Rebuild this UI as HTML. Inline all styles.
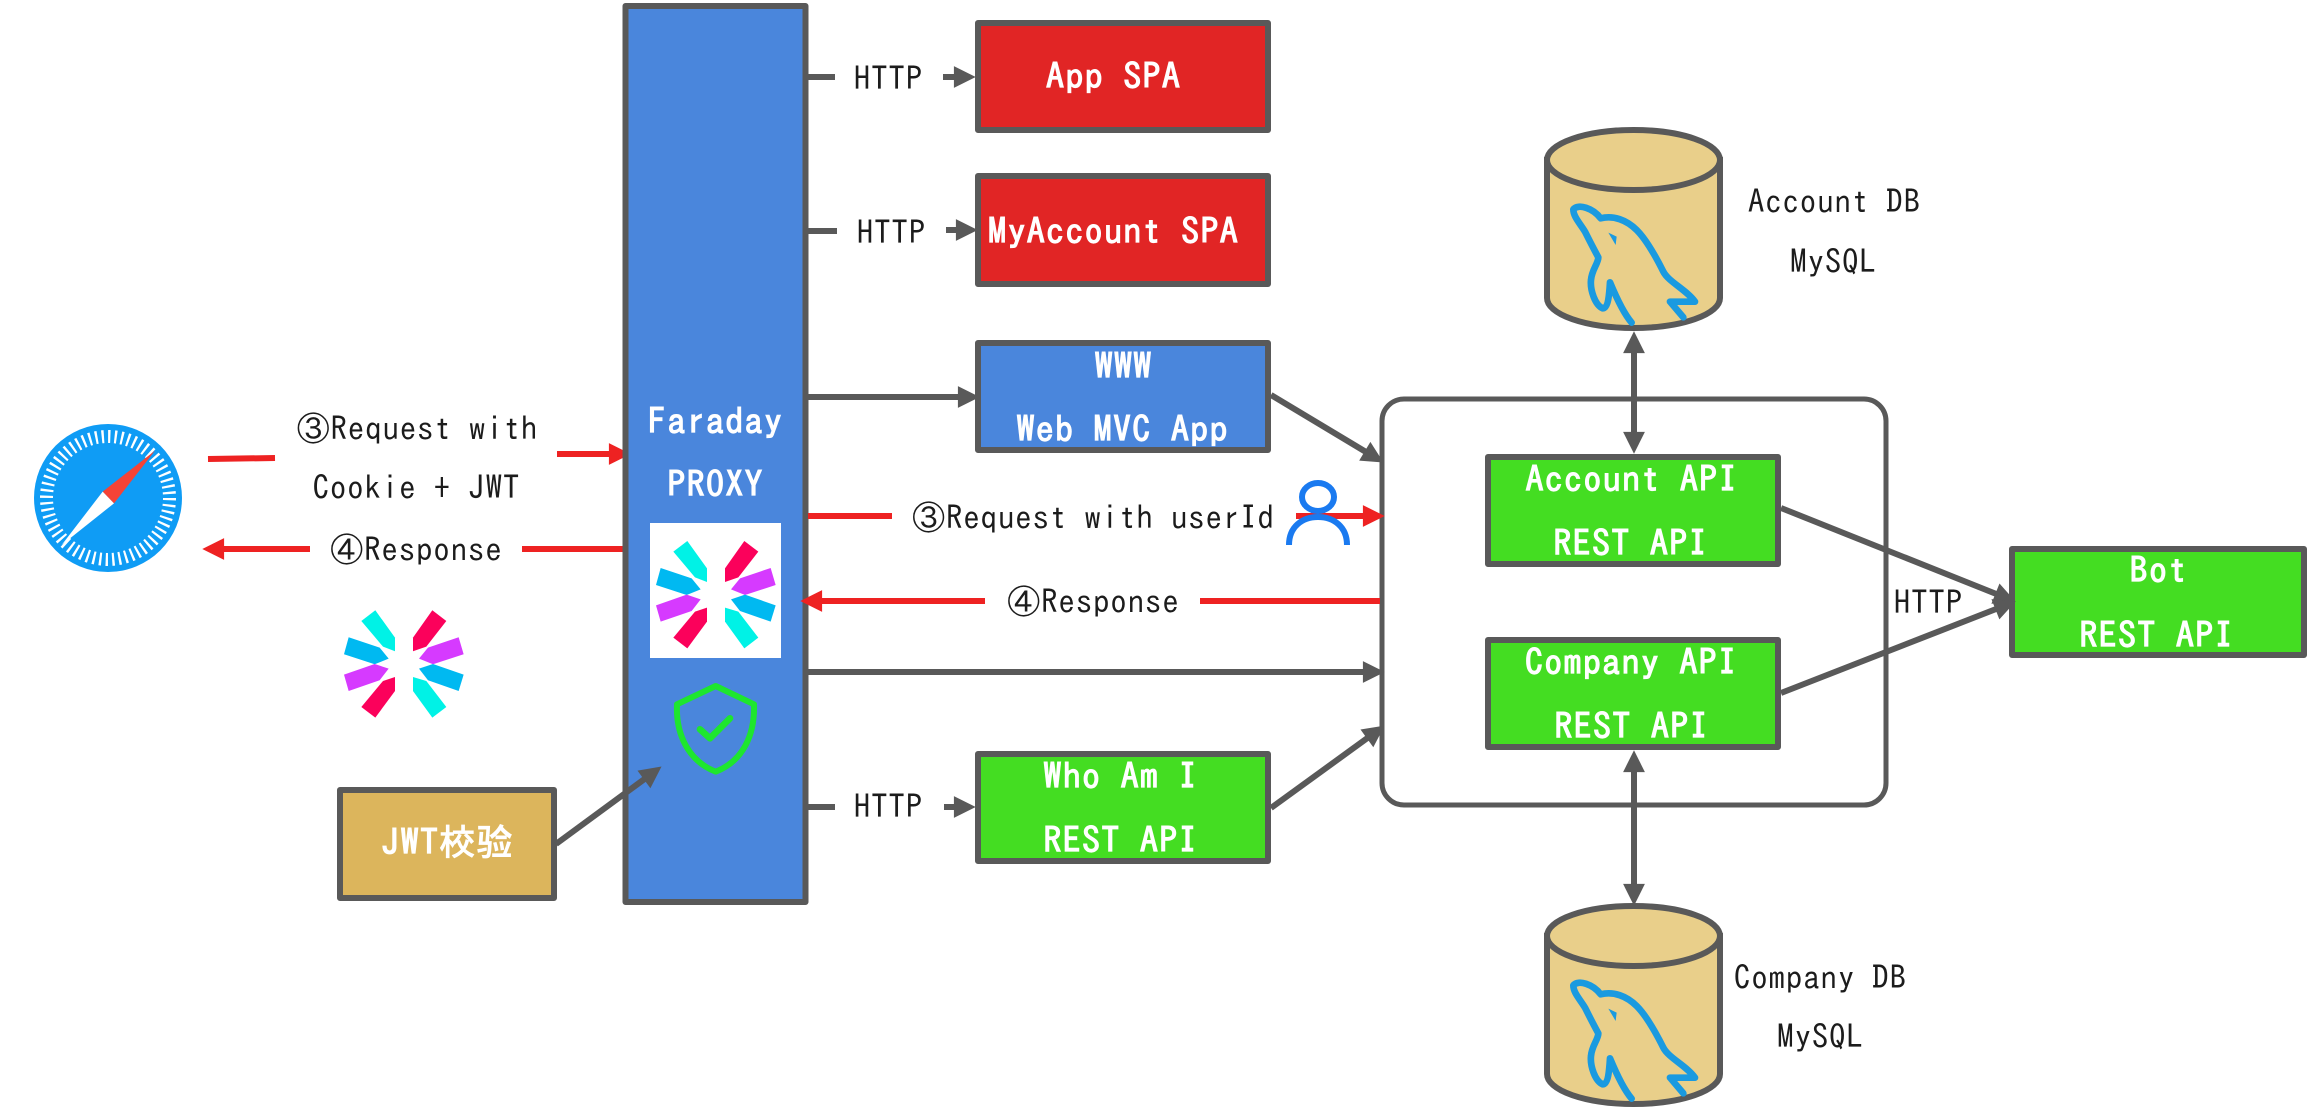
<!DOCTYPE html>
<html>
<head>
<meta charset="utf-8">
<style>
html,body{margin:0;padding:0;background:#fff;width:2315px;height:1110px;overflow:hidden}
svg{display:block}
text{font-family:"IPAGothic","WenQuanYi Zen Hei","Noto Sans CJK JP",monospace;text-anchor:middle}
.r{font-size:33px;letter-spacing:.8px;fill:#1c1c1c}
.b{font-size:36px;letter-spacing:1.3px;fill:#fff;font-weight:bold}
.box{stroke:#595959;stroke-width:6;stroke-linejoin:round}
.g{stroke:#595959;stroke-width:6;fill:none}
.a{marker-end:url(#mg)}
.d{marker-start:url(#mg2);marker-end:url(#mg)}
.l{stroke:#ee2222;stroke-width:6;fill:none}
.ar{marker-end:url(#mr)}
</style>
</head>
<body>
<svg width="2315" height="1110" viewBox="0 0 2315 1110" xmlns="http://www.w3.org/2000/svg">
<defs>
<marker id="mg" markerUnits="userSpaceOnUse" markerWidth="24" markerHeight="24" viewBox="0 -11 22 22" refX="12" refY="0" orient="auto" overflow="visible"><path d="M0,-10 L20,0 L0,10Z" fill="#595959"/></marker>
<marker id="mg2" markerUnits="userSpaceOnUse" markerWidth="24" markerHeight="24" viewBox="0 -11 22 22" refX="12" refY="0" orient="auto-start-reverse" overflow="visible"><path d="M0,-10 L20,0 L0,10Z" fill="#595959"/></marker>
<marker id="mr" markerUnits="userSpaceOnUse" markerWidth="24" markerHeight="24" viewBox="0 -11 22 22" refX="12" refY="0" orient="auto" overflow="visible"><path d="M0,-10 L20,0 L0,10Z" fill="#ee2222"/></marker>
<g id="jwt">
<polygon fill="#00f2e6" points="130,155 172,123 231,205 231,246 195,232"/>
<polygon fill="#00b9f1" points="92,204 78,255 170,285 212,268 185,235"/>
<polygon fill="#d63aff" points="78,316 92,365 185,333 212,298 170,284"/>
<polygon fill="#fb015b" points="172,445 130,413 195,335 231,323 231,365"/>
<polygon fill="#fb015b" points="343,123 385,155 325,232 285,246 285,205"/>
<polygon fill="#d63aff" points="422,204 437,255 345,285 303,268 330,235"/>
<polygon fill="#00b9f1" points="437,316 422,365 330,333 303,298 345,284"/>
<polygon fill="#00f2e6" points="343,445 385,413 325,335 285,323 285,365"/>
</g>
<g id="cyl">
<path d="M1547,160 L1547,298 A86.5,30 0 0 0 1720,298 L1720,160 Z" fill="#e9cf8a" stroke="#595959" stroke-width="6"/>
<ellipse cx="1633.5" cy="160" rx="86.5" ry="30" fill="#e9cf8a" stroke="#595959" stroke-width="6"/>
<g transform="translate(1530,120) scale(.3333)">
<path d="M305,608 C285,585 262,540 240,487 C238,520 235,565 218,565 C195,555 180,510 183,480 C185,450 205,430 205,412 C190,385 180,365 165,335 C150,310 130,290 130,268 C145,250 190,265 212,295 C250,285 290,300 320,330 C350,360 380,415 400,455 C415,485 470,510 495,545 L420,545 L460,592" fill="none" stroke="#1a9ae0" stroke-width="20" stroke-linecap="round" stroke-linejoin="round"/>
<polygon points="235,338 260,350 257,375" fill="#1a9ae0"/>
</g>
</g>
</defs>

<!-- Safari -->
<circle cx="108" cy="498" r="74" fill="#0f9cf5"/>
<circle cx="108" cy="498" r="61.5" fill="none" stroke="#fff" stroke-width="13" stroke-dasharray="2.3 4.14"/>
<g transform="translate(10,410) scale(.3333)">
<polygon points="435,122 278,245 312,280" fill="#f54336"/>
<polygon points="155,405 278,245 312,280" fill="#fff"/>
</g>

<!-- Free JWT logo -->
<use href="#jwt" transform="translate(318,569.3) scale(.3333)"/>

<!-- Left boxes -->
<rect x="340" y="790" width="214" height="108" fill="#dcb55c" class="box"/>

<!-- Left arrows -->
<line x1="208" y1="459" x2="275" y2="458" class="l"/>
<line x1="557" y1="454" x2="622" y2="454" class="l ar"/>
<line x1="310" y1="549" x2="211" y2="549" class="l ar"/>
<line x1="522" y1="549" x2="625" y2="549" class="l"/>

<!-- Proxy -->
<rect x="625.5" y="6" width="180" height="896" fill="#4a86dc" class="box"/>
<rect x="650" y="523" width="131" height="135" fill="#fff"/>
<use href="#jwt" transform="translate(630,500) scale(.3333)"/>
<g transform="translate(630,501) scale(.3333)" fill="none" stroke="#1ee62e" stroke-width="18" stroke-linejoin="round" stroke-linecap="round">
<path d="M257,555 L372,610 C375,700 340,780 257,812 C175,780 137,700 141,610 Z"/>
<path d="M210,685 L240,712 L300,652" stroke-width="20"/>
</g>
<line x1="556" y1="844" x2="654.5" y2="771.7" class="g a"/>

<!-- Container -->
<rect x="1382" y="399" width="504" height="406" rx="22" fill="none" stroke="#595959" stroke-width="5"/>

<!-- Service boxes -->
<rect x="978" y="23" width="290" height="107" fill="#e12525" class="box"/>
<rect x="978" y="176" width="290" height="108" fill="#e12525" class="box"/>
<rect x="978" y="343" width="290" height="107" fill="#4a86dc" class="box"/>
<rect x="978" y="754" width="290" height="107" fill="#44dd22" class="box"/>
<rect x="1488" y="457" width="290" height="107" fill="#44dd22" class="box"/>
<rect x="1488" y="640" width="290" height="107" fill="#44dd22" class="box"/>
<rect x="2012" y="549" width="292" height="106" fill="#44dd22" class="box"/>

<!-- Databases -->
<use href="#cyl"/>
<use href="#cyl" transform="translate(0,776)"/>

<!-- Gray connectors -->
<line x1="808" y1="77" x2="835" y2="77" class="g"/>
<line x1="943" y1="77" x2="967" y2="77" class="g a"/>
<line x1="808" y1="231" x2="837" y2="231" class="g"/>
<line x1="946" y1="230" x2="969" y2="230" class="g a"/>
<line x1="808" y1="397" x2="971" y2="397" class="g a"/>
<line x1="808" y1="807" x2="835" y2="807" class="g"/>
<line x1="944" y1="807" x2="967" y2="807" class="g a"/>
<line x1="808" y1="672" x2="1376" y2="672" class="g a"/>
<line x1="1271" y1="395" x2="1376" y2="458" class="g a"/>
<line x1="1271" y1="808" x2="1377.5" y2="730.7" class="g a"/>
<line x1="1781" y1="508" x2="2007.6" y2="598.5" class="g a"/>
<line x1="1781" y1="693" x2="2007.6" y2="604.5" class="g a"/>
<line x1="1634" y1="340" x2="1634" y2="445" class="g d"/>
<line x1="1634" y1="759" x2="1634" y2="897" class="g d"/>

<!-- Red connectors middle -->
<line x1="808" y1="516" x2="892" y2="516" class="l"/>
<line x1="1296" y1="516" x2="1376" y2="516" class="l ar"/>
<line x1="985" y1="601" x2="809" y2="601" class="l ar"/>
<line x1="1200" y1="601" x2="1380" y2="601" class="l"/>

<!-- User icon -->
<g fill="none" stroke="#1a7af0" stroke-width="6">
<ellipse cx="1318" cy="497" rx="16" ry="14"/>
<path d="M1289,545 C1289,527 1302,517 1318,517 C1334,517 1347,527 1347,545"/>
</g>

<!-- Regular labels -->
<g transform="translate(0.4,1.5)">
<text class="r" x="417" y="439">③Request with</text>
<text class="r" x="416" y="498">Cookie + JWT</text>
<text class="r" x="416" y="560">④Response</text>
<text class="r" x="1093" y="528">③Request with userId</text>
<text class="r" x="1093" y="612">④Response</text>
<text class="r" x="888" y="89">HTTP</text>
<text class="r" x="891" y="243">HTTP</text>
<text class="r" x="888" y="817">HTTP</text>
<text class="r" x="1928" y="613">HTTP</text>
<text class="r" x="1834" y="212">Account DB</text>
<text class="r" x="1833" y="272">MySQL</text>
<text class="r" x="1820" y="988">Company DB</text>
<text class="r" x="1820" y="1047">MySQL</text>
</g>

<!-- White labels -->
<g transform="translate(0.6,2)">
<text class="b" x="1113" y="87">App SPA</text>
<text class="b" x="1113" y="242">MyAccount SPA</text>
<text class="b" x="1123" y="377">WWW</text>
<text class="b" x="1122" y="440">Web MVC App</text>
<text class="b" x="1120" y="787">Who Am I</text>
<text class="b" x="1120" y="851">REST API</text>
<text class="b" x="1631" y="490">Account API</text>
<text class="b" x="1630" y="554">REST API</text>
<text class="b" x="1630.5" y="673">Company API</text>
<text class="b" x="1631" y="737">REST API</text>
<text class="b" x="2158" y="581">Bot</text>
<text class="b" x="2156" y="646">REST API</text>
<text class="b" x="715" y="432">Faraday</text>
<text class="b" x="715" y="495">PROXY</text>
<text class="b" x="447" y="853">JWT校验</text>
</g>
</svg>
</body>
</html>
